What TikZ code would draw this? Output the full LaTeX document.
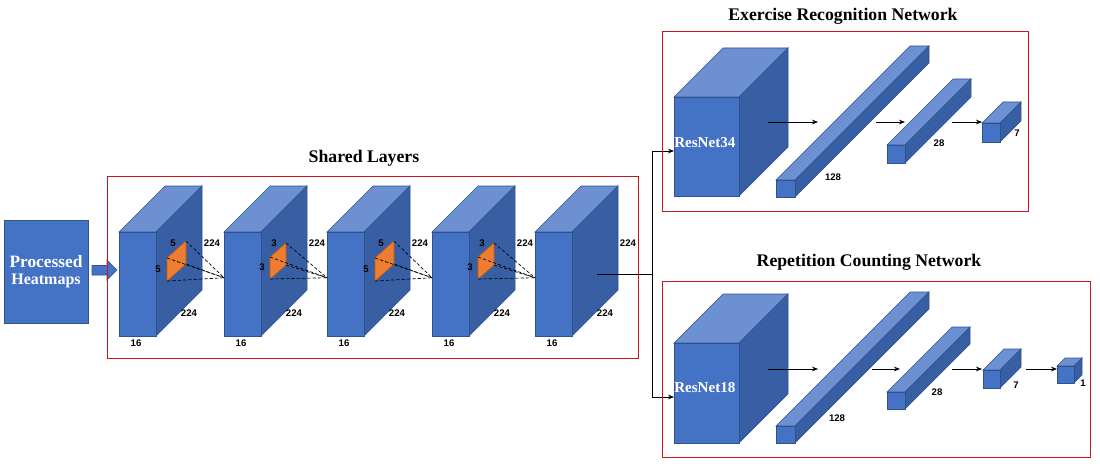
\documentclass[tikz,border=0pt]{standalone}
\usepackage{fontspec}
\setmainfont{Liberation Serif}
\setsansfont{Liberation Sans}
\usetikzlibrary{arrows.meta,calc}
\definecolor{frontc}{RGB}{68,114,196}
\definecolor{topc}{RGB}{108,144,210}
\definecolor{sidec}{RGB}{56,95,163}
\definecolor{edgec}{RGB}{47,82,143}
\definecolor{boxred}{RGB}{204,20,32}
\definecolor{kor}{RGB}{237,125,49}
\definecolor{kedge}{RGB}{197,90,17}
% #1 name, #2 x, #3 top y, #4 width, #5 height, #6 depth
\newcommand\cuboid[6]{%
  \filldraw[topc,draw=edgec,line width=0.5pt] (#2,#3) -- ++(#6,-#6) -- ++(#4,0) -- ++(-#6,#6) -- cycle;
  \filldraw[sidec,draw=edgec,line width=0.5pt] (#2+#4,#3) -- ++(#6,-#6) -- ++(0,#5) -- ++(-#6,#6) -- cycle;
  \node[draw=edgec,fill=frontc,line width=0.5pt,anchor=north west,inner sep=0pt,outer sep=0pt,
        minimum width=#4*0.75pt,minimum height=#5*0.75pt] (#1) at (#2,#3) {};%
}
% kernel of size 5: #1 id, #2 x0
\newcommand\kernfive[2]{%
  \coordinate (#1tr) at (#2+67,241);
  \coordinate (#1tl) at (#2+48,258);
  \coordinate (#1bl) at (#2+48,281);
  \coordinate (#1br) at (#2+67,264);
  \filldraw[kern] (#1tr) -- (#1tl) -- (#1bl) -- (#1br) -- cycle;
  \node[num] (#1la) at (#2+54,243) {5};
  \node[num] (#1lb) at (#2+39,269) {5};
}
\newcommand\kernthree[2]{%
  \coordinate (#1tr) at (#2+62,243);
  \coordinate (#1tl) at (#2+46,257);
  \coordinate (#1bl) at (#2+46,279);
  \coordinate (#1br) at (#2+62,265);
  \filldraw[kern] (#1tr) -- (#1tl) -- (#1bl) -- (#1br) -- cycle;
  \node[num] (#1la) at (#2+50,243) {3};
  \node[num] (#1lb) at (#2+38,267) {3};
}
\newcommand\cubelabels[2]{%
  \node[num] (#1n) at (#2+17,343) {16};
  \node[num] (#1r) at (#2+93,243) {224};
  \node[num] (#1b) at (#2+70,313) {224};
}
\begin{document}
\begin{tikzpicture}[x=0.75pt,y=-0.75pt,
  num/.style={font=\sffamily\bfseries\fontsize{7.2}{8}\selectfont,inner sep=0pt},
  title/.style={font=\bfseries\fontsize{13.3}{15}\selectfont,inner sep=0pt},
  resn/.style={font=\bfseries\fontsize{11.3}{13}\selectfont,text=white,inner sep=0pt,anchor=west},
  redbox/.style={draw=boxred,line width=0.75pt},
  arr/.style={-{Stealth[length=4.5pt,width=3.5pt]},line width=0.6pt},
  kdash/.style={dashed,dash pattern=on 2.5pt off 1.5pt,line width=0.5pt},
  kern/.style={fill=kor,draw=kedge,line width=0.4pt}]
\useasboundingbox (0,0) rectangle (1100,467);

% input box
\node[draw=edgec,fill=frontc,line width=0.6pt,minimum width=63pt,minimum height=77.25pt,inner sep=0pt,
      text=white,align=center,font=\bfseries] (ph) at (46,271.5)
  {{\fontsize{13}{15}\selectfont Processed}\\[1pt]{\fontsize{12}{14}\selectfont Heatmaps}};
\filldraw[fill=frontc,draw=edgec,line width=0.5pt] (92,265.5) -- (107,265.5) -- (107,260) -- (117,270)
  -- (107,280) -- (107,275) -- (92,275) -- cycle;

% shared layers
\draw[redbox] (107,176) rectangle (638,358);
\node[title] (tshared) at (364,158) {Shared Layers};
\cuboid{s1}{119}{232}{37}{104}{46}
\cuboid{s2}{224}{232}{37}{104}{46}
\cuboid{s3}{327}{232}{37}{104}{46}
\cuboid{s4}{432}{232}{37}{104}{46}
\cuboid{s5}{535}{232}{37}{104}{46}
\cubelabels{s1}{119}
\cubelabels{s2}{224}
\cubelabels{s3}{327}
\cubelabels{s4}{432}
\cubelabels{s5}{535}
\kernfive{ka}{119}
\kernthree{kb}{224}
\kernfive{kc}{327}
\kernthree{kd}{432}
\foreach \k/\t in {ka/s2,kb/s3,kc/s4,kd/s5}{
  \coordinate (\t in) at ($(\t.north west)!0.44!(\t.south west)$);
  \draw[kdash] (\k tr) -- (\t in);
  \draw[kdash] (\k tl) -- (\t in);
  \draw[kdash] (\k bl) -- (\t in);
  \draw[kdash] (\k br) -- (\t in);
}

% branch
\coordinate (s5out) at (597,274);
\coordinate (br) at (652,274);
\coordinate (r34in) at (674,151);
\coordinate (r18in) at (674,397);
\draw[line width=0.6pt] (s5out) -- (br);
\draw[arr] (br) |- (r34in);
\draw[arr] (br) |- (r18in);

% exercise recognition network
\draw[redbox] (662,32) rectangle (1028,211);
\node[title] (tex) at (843,16) {Exercise Recognition Network};
\cuboid{r34}{674}{97}{65}{99}{49}
\node[resn] (r34t) at (674,143) {ResNet34};
\cuboid{ea}{776}{180}{19}{17}{134}
\cuboid{eb}{887}{145}{18}{18}{66}
\cuboid{ec}{982}{123}{18}{19}{21}
\coordinate (e1s) at (768,122); \coordinate (e1e) at (818,122);
\coordinate (e2s) at (876,122); \coordinate (e2e) at (905,122);
\coordinate (e3s) at (952,122); \coordinate (e3e) at (982,122);
\draw[arr] (e1s) -- (e1e);
\draw[arr] (e2s) -- (e2e);
\draw[arr] (e3s) -- (e3e);
\node[num] (l128a) at (833,177) {128};
\node[num] (l28a) at (939,143) {28};
\node[num] (l7a) at (1017,133) {7};

% repetition counting network
\draw[redbox] (662,281) rectangle (1090,457);
\node[title] (trep) at (869,262) {Repetition Counting Network};
\cuboid{r18}{674}{343}{65}{100}{49}
\node[resn] (r18t) at (674,388) {ResNet18};
\cuboid{ra}{776}{426}{19}{17}{134}
\cuboid{rb}{887}{392}{18}{17}{65}
\cuboid{rc}{983}{370}{17}{18}{21}
\cuboid{rd}{1057}{366}{17}{17}{8}
\coordinate (q1s) at (768,369); \coordinate (q1e) at (818,369);
\coordinate (q2s) at (872,369); \coordinate (q2e) at (900,369);
\coordinate (q3s) at (952,369); \coordinate (q3e) at (982,369);
\coordinate (q4s) at (1026,369); \coordinate (q4e) at (1057,369);
\draw[arr] (q1s) -- (q1e);
\draw[arr] (q2s) -- (q2e);
\draw[arr] (q3s) -- (q3e);
\draw[arr] (q4s) -- (q4e);
\node[num] (l128b) at (837,418) {128};
\node[num] (l28b) at (937,392) {28};
\node[num] (l7b) at (1016,385) {7};
\node[num] (l1b) at (1083,383) {1};
\end{tikzpicture}
\end{document}
